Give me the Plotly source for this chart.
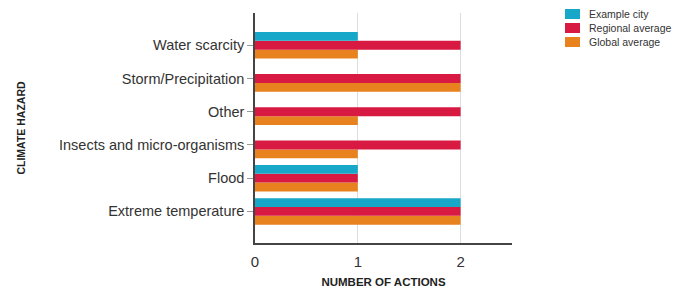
import plotly.graph_objects as go

categories = ["Extreme temperature", "Flood", "Insects and micro-organisms",
              "Other", "Storm/Precipitation", "Water scarcity"]
example_city = [2, 1, 0, 0, 0, 1]
regional_avg = [2, 1, 2, 2, 2, 2]
global_avg = [2, 1, 1, 1, 2, 1]
x_ticks = [0, 1, 2]

series = [
    ("Example city", example_city, "#17A8C9"),
    ("Regional average", regional_avg, "#D81A43"),
    ("Global average", global_avg, "#E8821E"),
]

fig = go.Figure()
# add in reverse so Example city sits at the top of each group
for name, vals, color in reversed(series):
    fig.add_trace(go.Bar(y=categories, x=vals, orientation="h", name=name,
                         marker=dict(color=color, line=dict(width=0)),
                         showlegend=False))

font_family = "Liberation Sans, Arial, sans-serif"

# page body has an 8px margin, so the figure is offset by 8px
OFF = 8
W, H = 681 - OFF, 289 - OFF
L, R, T, B = 255 - OFF, 169, 13 - OFF, 46
plot_h = H - T - B
plot_w = W - L - R

def px_x(x):
    return (x - OFF - L) / plot_w

def px_y(y):
    return 1 - (y - OFF - T) / plot_h

# compact legend drawn as swatches + text (paper coordinates)
shapes = []
annotations = []
for i, (name, vals, color) in enumerate(series):
    cy = 14 + i * 14
    shapes.append(dict(type="rect", xref="paper", yref="paper", x0=px_x(565), x1=px_x(580),
                       y0=px_y(cy + 5), y1=px_y(cy - 5), fillcolor=color,
                       line=dict(width=0)))
    annotations.append(dict(xref="paper", yref="paper", x=px_x(587), y=px_y(cy),
                            text=name, showarrow=False, xanchor="left", yanchor="middle",
                            font=dict(size=10.5, color="#333333", family=font_family)))

fig.update_layout(
    width=W, height=H,
    margin=dict(l=L, r=R, t=T, b=B, autoexpand=False),
    barmode="group", bargap=0.2, bargroupgap=0,
    plot_bgcolor="white", paper_bgcolor="white",
    font=dict(family=font_family, color="#333333"),
    showlegend=False,
    shapes=shapes, annotations=annotations,
    xaxis=dict(range=[0, 2.5], tickvals=x_ticks, showgrid=True, gridcolor="#dddddd",
               gridwidth=1, zeroline=False, showline=True, linecolor="#444444", linewidth=1.5,
               ticks="", tickfont=dict(size=15, color="#333333"), automargin=False,
               ticklabelstandoff=4,
               title=dict(text="<b>NUMBER OF ACTIONS</b>", font=dict(size=11.5, color="#222222"),
                          standoff=9)),
    yaxis=dict(range=[-0.95, 5.97], showgrid=False, showline=True, linecolor="#444444",
               linewidth=1.5, ticks="outside", ticklen=6, tickcolor="#999999",
               tickfont=dict(size=14.5, color="#333333"), automargin=False,
               title=dict(text="<b>CLIMATE HAZARD</b>", font=dict(size=10.5, color="#222222"),
                          standoff=31)),
)
fig.write_html("out.html")
